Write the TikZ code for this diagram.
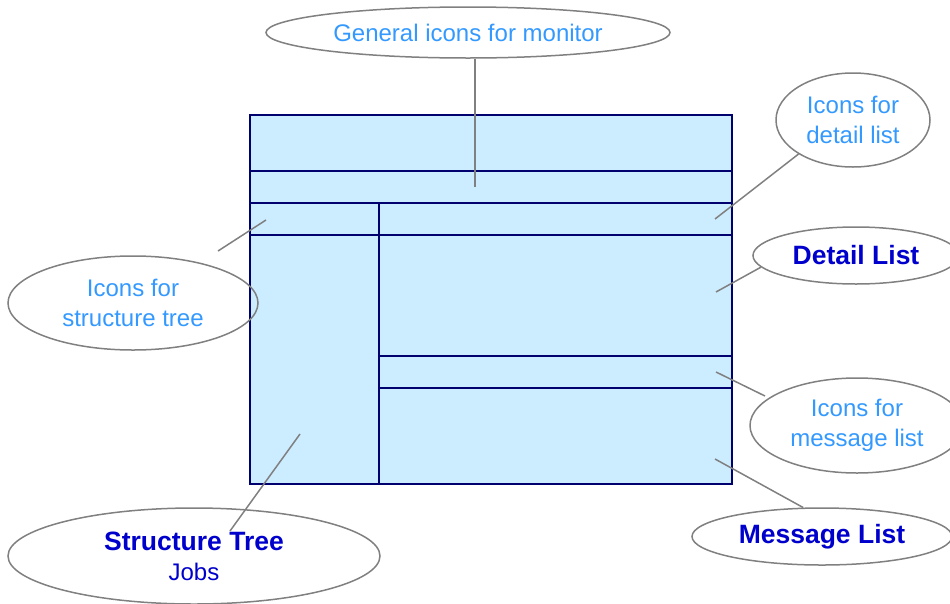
\documentclass[tikz,border=0pt]{standalone}
\usepackage{fontspec}
\setmainfont{Liberation Sans}
\usetikzlibrary{shapes.geometric}

\definecolor{panelfill}{RGB}{204,236,255}
\definecolor{paneledge}{RGB}{0,0,110}
\definecolor{calloutgray}{RGB}{128,128,128}
\definecolor{labelblue}{RGB}{51,153,255}
\definecolor{titleblue}{RGB}{0,0,204}

\begin{document}
\begin{tikzpicture}[x=1pt,y=-1pt,
  panel/.style={draw=paneledge, line width=2pt},
  callout/.style={ellipse, draw=calloutgray, line width=1.5pt, inner sep=0pt,
    align=center, font=\fontsize{24}{30}\selectfont, text=labelblue},
  titlecallout/.style={callout, text=titleblue},
  leader/.style={draw=calloutgray, line width=1.5pt}]

\useasboundingbox (0,0) rectangle (950,603);

% monitor screen layout
\draw[panel, fill=panelfill] (250,115) rectangle (732,484);
\draw[panel] (250,171) -- (732,171);
\draw[panel] (250,203) -- (732,203);
\draw[panel] (250,235) -- (732,235);
\draw[panel] (379,203) -- (379,484);
\draw[panel] (379,356) -- (732,356);
\draw[panel] (379,388) -- (732,388);

% callout ellipses
\node[callout, minimum width=404, minimum height=51] (gen) at (468,32.5)
  {General icons for monitor};
\node[callout, minimum width=154, minimum height=94] (deticons) at (853,120)
  {Icons for\\detail list};
\node[titlecallout, minimum width=206, minimum height=57] (detlist) at (856,255.5)
  {\textbf{\fontsize{26.5}{30}\selectfont Detail List}};
\node[callout, minimum width=250, minimum height=94] (treeicons) at (133,303)
  {Icons for\\structure tree};
\node[callout, minimum width=214, minimum height=95] (msgicons) at (857,425.5)
  {Icons for\\message list};
\node[titlecallout, minimum width=260, minimum height=57] (msglist) at (822,536.5)
  {\textbf{\fontsize{26.5}{30}\selectfont Message List}};
\node[titlecallout, minimum width=372, minimum height=96] (tree) at (194,556)
  {\textbf{\fontsize{26.5}{30}\selectfont Structure Tree}\\Jobs};

% anchor points of the leader lines
\coordinate (genpt) at (475,187);
\coordinate (deticonspt) at (715,219);
\coordinate (detlistpt) at (716,292);
\coordinate (treeiconspt) at (266,220);
\coordinate (treeiconsend) at (218,251);
\coordinate (msgiconspt) at (716,372);
\coordinate (msgiconsend) at (765,396);
\coordinate (msglistpt) at (715,459);
\coordinate (treept) at (300,434);
\coordinate (treeend) at (230,531);

% leader lines
\draw[leader] (genpt) -- (genpt |- gen.south);
\draw[leader] (deticonspt) -- (deticons.212);
\draw[leader] (detlistpt) -- (detlist.187);
\draw[leader] (treeiconspt) -- (treeiconsend);
\draw[leader] (msgiconspt) -- (msgiconsend);
\draw[leader] (msglistpt) -- (msglist.123);
\draw[leader] (treept) -- (treeend);

\end{tikzpicture}
\end{document}
